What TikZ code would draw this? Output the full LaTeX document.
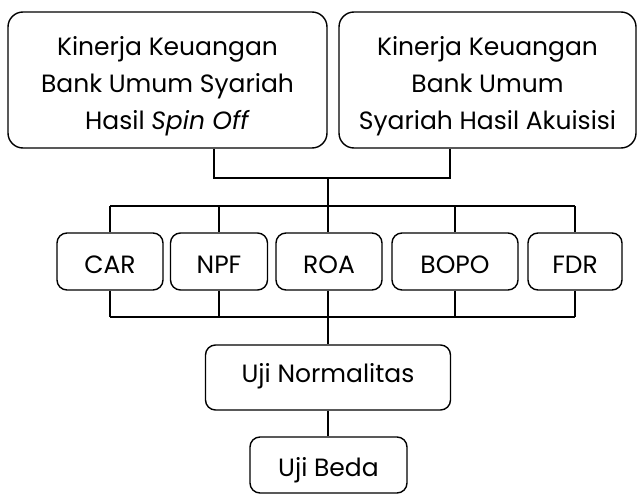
\documentclass[tikz,border=0pt]{standalone}
\usepackage{fontspec}
\setmainfont{Poppins}
\begin{document}
\begin{tikzpicture}[x=1pt,y=-1pt,
		bigbox/.style={draw, line width=1.4pt, rounded corners=15pt, align=center, inner sep=0pt, font=\fontsize{25}{37.5}\selectfont, minimum height=136pt},
		varbox/.style={draw, line width=1.4pt, rounded corners=10pt, inner sep=0pt, font=\fontsize{25}{30}\selectfont, minimum height=57pt, text height=23.5pt, text depth=0pt},
		link/.style={line width=1.4pt}]
			\useasboundingbox (0,0) rectangle (638,495);
			% Top boxes
			\node[bigbox, minimum width=319pt] (spin) at (167.5,80) {\rule{0pt}{33pt}Kinerja Keuangan\\Bank Umum Syariah\\Hasil \textit{Spin Off}\rule[-8pt]{0pt}{8pt}};
			\node[bigbox, minimum width=297pt] (akuisisi) at (487.5,80) {\rule{0pt}{33pt}Kinerja Keuangan\\Bank Umum\\Syariah Hasil Akuisisi\rule[-8pt]{0pt}{8pt}};

			% Ratio boxes
			\node[varbox, minimum width=106pt] (car) at (110,261.5) {CAR};
			\node[varbox, minimum width=97pt] (npf) at (219,261.5) {NPF};
			\node[varbox, minimum width=106pt] (roa) at (329,261.5) {ROA};
			\node[varbox, minimum width=126pt] (bopo) at (455,261.5) {BOPO};
			\node[varbox, minimum width=94pt] (fdr) at (575,261.5) {FDR};

			% Tests
			\node[varbox, minimum width=245pt, minimum height=65pt, text height=10.5pt] (normal) at (328,377.5) {Uji Normalitas};
			\node[varbox, minimum width=157pt, minimum height=56pt, text height=22.5pt] (beda) at (328.5,465) {Uji Beda};

			% Bus lines
			\coordinate (bl) at (214,178);
			\coordinate (br) at (450,178);
			\coordinate (jt) at (328,178);
			\coordinate (tb) at (0,206);
			\coordinate (bb) at (0,317);

			\draw[link] (spin.south -| bl) |- (br) -- (akuisisi.south -| br);
			\draw[link] (jt) -- (jt |- roa.north);
			\draw[link] (car.north |- tb) -- (fdr.north |- tb);
			\draw[link] (car.south |- bb) -- (fdr.south |- bb);
			\foreach \n in {car,npf,bopo,fdr}
			{
			\draw[link] (\n.north |- tb) -- (\n.north);
			\draw[link] (\n.south) -- (\n.south |- bb);
			}
			\draw[link] (jt |- roa.south) -- (jt |- normal.north);
			\draw[link] (normal.south -| jt) -- (beda.north -| jt);
		\end{tikzpicture}
\end{document}
